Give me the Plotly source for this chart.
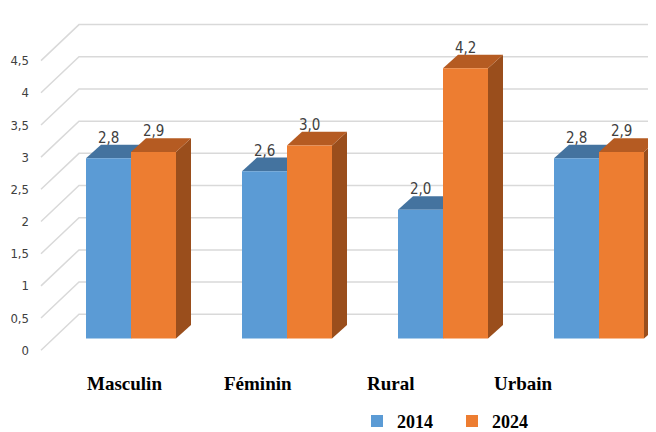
import plotly.graph_objects as go

# ---------------- data ----------------
categories = ["Masculin", "Féminin", "Rural", "Urbain"]
values_2014 = [2.8, 2.6, 2.0, 2.8]
values_2024 = [2.9, 3.0, 4.2, 2.9]
series_names = ["2014", "2024"]
y_ticks = [0, 0.5, 1, 1.5, 2, 2.5, 3, 3.5, 4, 4.5]
y_tick_labels = ["0", "0,5", "1", "1,5", "2", "2,5", "3", "3,5", "4", "4,5"]

# ---------------- styling / geometry ----------------
W, H = 656, 432
SHIFT = 7               # page offset compensation (px)
ML = 32 - SHIFT
X0_PX = 130 - SHIFT     # pixel of first category centre
PX_CAT = 156.0          # pixels per category
PX_UNIT = 66.2          # pixels per value unit
X_RANGE = [(ML - X0_PX) / PX_CAT, (W - X0_PX) / PX_CAT]
Y_RANGE = [(340 - H) / PX_UNIT, 340 / PX_UNIT]
BW = 45 / PX_CAT        # bar width (x units)
DX = 15 / PX_CAT        # depth offset x
DY = 14 / PX_UNIT       # depth offset y
FRONT_OFF = 12 / PX_UNIT   # floor front edge below bar base
BACK_OFF = 25 / PX_UNIT    # back wall above bar base
WALL_X0 = (40 - 130) / PX_CAT
WALL_X1 = (78 - 130) / PX_CAT

C_BLUE, C_BLUE_TOP, C_BLUE_SIDE = "#5B9BD5", "#44739F", "#3C6791"
C_OR, C_OR_TOP, C_OR_SIDE = "#ED7D31", "#B55B22", "#9A4E1C"
GRID = "#D9D9D9"
NARROW = "Liberation Sans Narrow, DejaVu Sans Condensed, Arial Narrow, sans-serif"
SERIF = "Liberation Serif, Times New Roman, serif"

xs = list(range(len(categories)))

fig = go.Figure()
fig.add_trace(go.Bar(x=xs, y=values_2014, name=series_names[0], width=BW, offset=-BW,
                     marker=dict(color=C_BLUE, line=dict(width=0))))
fig.add_trace(go.Bar(x=xs, y=values_2024, name=series_names[1], width=BW, offset=0,
                     marker=dict(color=C_OR, line=dict(width=0))))

shapes = []
# 3D gridlines (floor diagonal + back wall line)
for v in y_ticks:
    shapes.append(dict(type="path", xref="x", yref="y", layer="below",
                       path=f"M{WALL_X0},{v - FRONT_OFF} L{WALL_X1},{v + BACK_OFF} L{X_RANGE[1] + 1},{v + BACK_OFF}",
                       line=dict(color=GRID, width=1.5)))


def box_faces(x0, x1, h, top_c, side_c):
    side = dict(type="path", xref="x", yref="y", layer="below",
                path=f"M{x1},0 L{x1},{h} L{x1 + DX},{h + DY} L{x1 + DX},{DY} Z",
                fillcolor=side_c, line=dict(width=0))
    top = dict(type="path", xref="x", yref="y", layer="below",
               path=f"M{x0},{h} L{x0 + DX},{h + DY} L{x1 + DX},{h + DY} L{x1},{h} Z",
               fillcolor=top_c, line=dict(width=0))
    return [side, top]


annotations = []
for i, (a, b) in enumerate(zip(values_2014, values_2024)):
    shapes += box_faces(i - BW, i, a, C_BLUE_TOP, C_BLUE_SIDE)
    shapes += box_faces(i, i + BW, b, C_OR_TOP, C_OR_SIDE)
    for xc, v in ((i - BW / 2, a), (i + BW / 2, b)):
        annotations.append(dict(x=xc, y=v + DY, xref="x", yref="y", text=f"{v:.1f}".replace(".", ","),
                                showarrow=False, yanchor="bottom", yshift=-4,
                                font=dict(family=NARROW, size=15, color="#404040")))

LABEL_START, LABEL_STEP = -0.04, 0.853
for i, c in enumerate(categories):
    annotations.append(dict(x=LABEL_START + LABEL_STEP * i, y=(340 - 386) / PX_UNIT, xref="x", yref="y",
                            text=c, showarrow=False, yanchor="middle",
                            font=dict(family=SERIF, size=19, color="#000000", weight="bold")))

fig.update_layout(
    width=W, height=H,
    margin=dict(l=ML, r=0, t=0, b=0),
    paper_bgcolor="white", plot_bgcolor="white",
    barmode="overlay",
    shapes=shapes,
    annotations=annotations,
    xaxis=dict(range=X_RANGE, showgrid=False, zeroline=False, showticklabels=False,
               fixedrange=True, automargin=False),
    yaxis=dict(range=Y_RANGE, showgrid=False, zeroline=False, automargin=False,
               tickvals=[v - FRONT_OFF for v in y_ticks], ticktext=y_tick_labels,
               tickfont=dict(family=NARROW, size=13, color="#404040"), ticklabelstandoff=3),
    showlegend=True,
    legend=dict(orientation="h", x=(356 - SHIFT - ML) / (W - ML), y=1 - 425 / H,
                xanchor="left", yanchor="middle",
                font=dict(family=SERIF, size=18, color="#000000", weight="bold"), bgcolor="rgba(0,0,0,0)",
                traceorder="normal", itemwidth=30, entrywidth=50, entrywidthmode="pixels"),
)

fig.write_html("out.html")
